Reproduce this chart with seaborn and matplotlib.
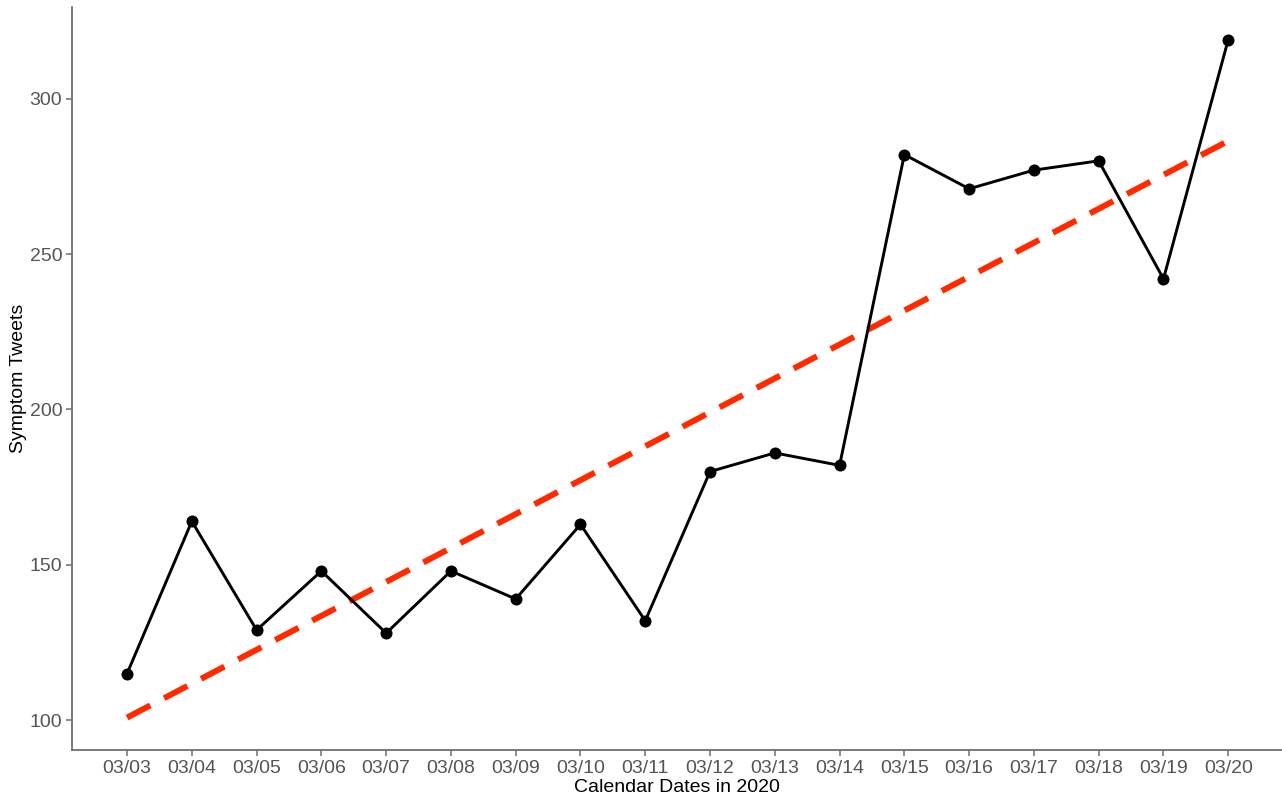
import numpy as np
import pandas as pd
import matplotlib
matplotlib.use("Agg")
import matplotlib.pyplot as plt
import seaborn as sns

dates = ["03/03", "03/04", "03/05", "03/06", "03/07", "03/08", "03/09", "03/10", "03/11",
         "03/12", "03/13", "03/14", "03/15", "03/16", "03/17", "03/18", "03/19", "03/20"]
tweets = [115, 164, 129, 148, 128, 148, 139, 163, 132,
          180, 186, 182, 282, 271, 277, 280, 242, 319]
y_ticks = [100, 150, 200, 250, 300]

df = pd.DataFrame({"day": np.arange(len(dates)), "tweets": tweets})

sns.set_theme(style="white")
plt.rcParams["font.family"] = ["Liberation Sans", "DejaVu Sans"]

fig = plt.figure(figsize=(12.82, 7.98), dpi=100)
ax = fig.add_axes([72 / 1282, 48 / 798, 1210 / 1282, 743 / 798])

sns.lineplot(data=df, x="day", y="tweets", color="black", linewidth=2.1, ax=ax, zorder=3)
sns.scatterplot(data=df, x="day", y="tweets", color="black", s=75, edgecolor="black",
                linewidth=0, ax=ax, zorder=4)
sns.regplot(data=df, x="day", y="tweets", scatter=False, ci=None, ax=ax, truncate=True,
            line_kws={"color": "#FF2A00", "linewidth": 4.3, "dashes": (4.4, 2.6),
                      "dash_capstyle": "butt", "zorder": 2})

ax.set_xlim(-0.85, len(dates) - 1 + 0.83)
ax.set_ylim(90.4, 329.5)
ax.set_xticks(np.arange(len(dates)))
ax.set_xticklabels(dates)
ax.set_yticks(y_ticks)

for side in ["top", "right"]:
    ax.spines[side].set_visible(False)
for side in ["left", "bottom"]:
    ax.spines[side].set_color("#6e6e6e")
    ax.spines[side].set_linewidth(1.3)

ax.tick_params(axis="both", which="major", length=4, width=1.1, color="#6e6e6e",
               labelsize=14, labelcolor="#555555", pad=3, bottom=True, left=True)
ax.set_xlabel("Calendar Dates in 2020", fontsize=14, color="black", labelpad=2)
ax.set_ylabel("Symptom Tweets", fontsize=14, color="black")
ax.yaxis.set_label_coords(-0.0375, 0.5)

fig.savefig("out.png", dpi=100)
